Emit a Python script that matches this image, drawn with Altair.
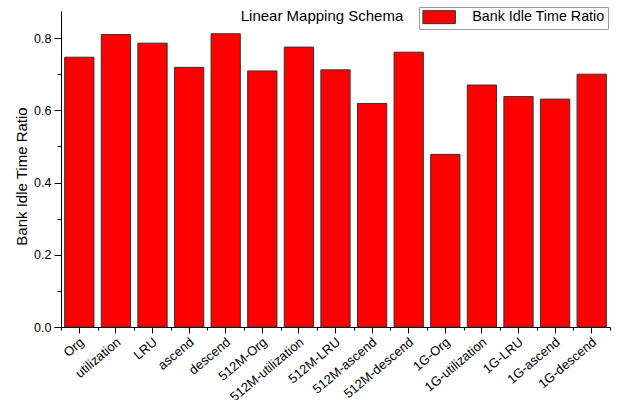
import altair as alt
import pandas as pd

categories = ["Org", "utilization", "LRU", "ascend", "descend",
              "512M-Org", "512M-utilization", "512M-LRU", "512M-ascend", "512M-descend",
              "1G-Org", "1G-utilization", "1G-LRU", "1G-ascend", "1G-descend"]
ratios = [0.747, 0.810, 0.786, 0.719, 0.812,
          0.709, 0.775, 0.712, 0.619, 0.761,
          0.478, 0.670, 0.638, 0.631, 0.700]
series_name = "Bank Idle Time Ratio"
chart_title = "Linear Mapping Schema"
y_title = "Bank Idle Time Ratio"
y_major = [0.0, 0.2, 0.4, 0.6, 0.8]
y_minor = [0.1, 0.3, 0.5, 0.7]
x_bounds = list(range(len(categories) + 1))

FONT = "Liberation Sans"

df = pd.DataFrame({"category": categories, "ratio": ratios, "series": series_name})
bounds_df = pd.DataFrame({"b": x_bounds})
title_df = pd.DataFrame({"t": [chart_title]})

yscale = alt.Scale(domain=[0, 0.875], nice=False, zero=True)

bars = alt.Chart(df).mark_bar(stroke="#333333", strokeWidth=1).encode(
    x=alt.X("category:N", sort=categories,
            scale=alt.Scale(paddingInner=0.2, paddingOuter=0.1),
            axis=alt.Axis(title=None, orient="bottom", labelAngle=-40, labelAlign="right",
                          labelBaseline="middle", labelFontSize=13, labelPadding=7,
                          labelOffset=3, tickSize=6, labelColor="#000000",
                          domainColor="#000000", tickColor="#000000", labelFont=FONT,
                          grid=False)),
    y=alt.Y("ratio:Q", scale=yscale,
            axis=alt.Axis(values=y_major, format=".1f", tickSize=7, labelPadding=3,
                          labelFontSize=12.5, labelFont=FONT, labelColor="#000000",
                          domainColor="#000000", tickColor="#000000", grid=False,
                          title=y_title, titleFont=FONT, titleFontSize=15,
                          titleFontWeight="normal", titleColor="#000000",
                          titleX=-40, titleY=165, titleAngle=270,
                          titleBaseline="middle", titleAlign="center")),
    color=alt.Color("series:N", scale=alt.Scale(range=["#ff0000"]),
                    legend=alt.Legend(title=None, orient="none", legendX=358, legendY=-4,
                                      strokeColor="#999999", fillColor="#ffffff", padding=3,
                                      symbolType="M-2.5,-1H2.5V1H-2.5Z", symbolSize=169,
                                      symbolOffset=10, symbolStrokeColor="#333333",
                                      symbolStrokeWidth=1, symbolFillColor="#ff0000",
                                      labelFont=FONT, labelFontSize=14.3, labelColor="#000000",
                                      labelOffset=26)),
)

y_minor_layer = alt.Chart(df).mark_point(opacity=0).encode(
    y=alt.Y("ratio:Q", scale=yscale,
            axis=alt.Axis(values=y_minor, tickSize=4, labels=False, domain=False,
                          title=None, orient="left", grid=False, tickColor="#000000")),
)

x_minor_layer = alt.Chart(bounds_df).mark_point(opacity=0).encode(
    x=alt.X("b:Q", scale=alt.Scale(domain=[0, len(categories)], nice=False, zero=False),
            axis=alt.Axis(values=x_bounds, tickSize=3, labels=False, domain=False,
                          title=None, orient="bottom", grid=False, tickColor="#000000")),
    y=alt.value(0),
)

title_layer = alt.Chart(title_df).mark_text(
    font=FONT, fontSize=15, color="#000000", align="center", baseline="middle"
).encode(x=alt.value(261), y=alt.value(5), text="t:N")

chart = alt.layer(bars, y_minor_layer, x_minor_layer, title_layer).resolve_scale(
    x="independent"
).resolve_axis(
    x="independent", y="independent"
).properties(
    width=549, height=316,
    autosize=alt.AutoSizeParams(type="none"),
    padding={"left": 61, "top": 11, "right": 8, "bottom": 73},
    background="#ffffff",
).configure_view(stroke=None)

chart.save("out.html", embed_options={"renderer": "svg", "actions": False})
